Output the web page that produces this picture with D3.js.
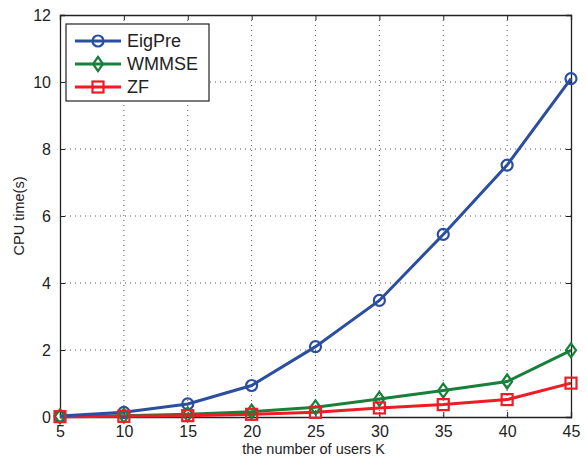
<!DOCTYPE html>
<html>
<head>
<meta charset="utf-8">
<script src="https://cdn.jsdelivr.net/npm/d3@7"></script>
<style>
  body { margin: 0; background: #fff; }
  text { font-family: "Liberation Sans", Arial, sans-serif; fill: #222; }
</style>
</head>
<body>
<svg id="chart"></svg>
<script>
const users = [5, 10, 15, 20, 25, 30, 35, 40, 45];
const eigPre = [0.03, 0.14, 0.39, 0.94, 2.1, 3.48, 5.45, 7.52, 10.1];
const wmmse = [0.02, 0.04, 0.08, 0.16, 0.29, 0.54, 0.79, 1.06, 1.99];
const zf = [0.01, 0.02, 0.04, 0.08, 0.14, 0.27, 0.37, 0.52, 1.01];
const yTicks = [0, 2, 4, 6, 8, 10, 12];
const seriesNames = ["EigPre", "WMMSE", "ZF"];

const W = 587, H = 460;
const margin = { top: 15, right: 16, bottom: 43, left: 60 };
const width = W - margin.left - margin.right;
const height = H - margin.top - margin.bottom;

const svg = d3.select("#chart").attr("width", W).attr("height", H);
const g = svg.append("g").attr("transform", `translate(${margin.left},${margin.top})`);

const x = d3.scaleLinear().domain([5, 45]).range([0, width]);
const y = d3.scaleLinear().domain([0, 12]).range([height, 0]);

// grid
g.append("g").selectAll("line").data(users.slice(1, -1)).join("line")
  .attr("x1", d => x(d)).attr("x2", d => x(d)).attr("y1", 0).attr("y2", height)
  .attr("stroke", "#555").attr("stroke-width", 1).attr("stroke-dasharray", "1,4");
g.append("g").selectAll("line").data(yTicks.slice(1, -1)).join("line")
  .attr("y1", d => y(d)).attr("y2", d => y(d)).attr("x1", 0).attr("x2", width)
  .attr("stroke", "#555").attr("stroke-width", 1).attr("stroke-dasharray", "1,4");

// axes
g.append("g").attr("transform", `translate(0,${height})`)
  .call(d3.axisBottom(x).tickValues(users).tickSize(-5).tickPadding(9));
g.append("g")
  .call(d3.axisLeft(y).tickValues(yTicks).tickSize(-5).tickPadding(9));
g.append("g").call(d3.axisTop(x).tickValues(users).tickSize(-5).tickFormat(""));
g.append("g").attr("transform", `translate(${width},0)`)
  .call(d3.axisRight(y).tickValues(yTicks).tickSize(-5).tickFormat(""));
g.selectAll(".domain").attr("stroke", "#222").attr("stroke-width", 1.3);
g.selectAll(".tick line").attr("stroke", "#222");
g.selectAll(".tick text").style("font-size", "16px").style("font-family", "Liberation Sans, Arial, sans-serif").attr("fill", "#222");

// labels
svg.append("text").attr("x", margin.left + width / 2 - 2).attr("y", 454)
  .attr("text-anchor", "middle").style("font-size", "14.5px").text("the number of users K");
svg.append("text").attr("transform", `translate(24,${margin.top + height / 2}) rotate(-90)`)
  .attr("text-anchor", "middle").style("font-size", "14.5px").text("CPU time(s)");

const colors = ["#2B4EA0", "#18803A", "#EE1C25"];
const allSeries = [eigPre, wmmse, zf];
const line = d3.line().x((d, i) => x(users[i])).y(d => y(d));

function marker(sel, k, cx, cy) {
  if (k === 0) {
    sel.append("circle").attr("cx", cx).attr("cy", cy).attr("r", 5.5)
      .attr("fill", "none").attr("stroke", colors[k]).attr("stroke-width", 2.2);
  } else if (k === 1) {
    sel.append("path").attr("d", `M${cx},${cy - 7}L${cx + 5},${cy}L${cx},${cy + 7}L${cx - 5},${cy}Z`)
      .attr("fill", "none").attr("stroke", colors[k]).attr("stroke-width", 2.2);
  } else {
    sel.append("rect").attr("x", cx - 5.5).attr("y", cy - 5.5).attr("width", 11).attr("height", 11)
      .attr("fill", "none").attr("stroke", colors[k]).attr("stroke-width", 2.2);
  }
}

const plot = svg.append("g").attr("transform", `translate(${margin.left},${margin.top})`);
[1, 2, 0].forEach(k => {
  plot.append("path").datum(allSeries[k]).attr("d", line)
    .attr("fill", "none").attr("stroke", colors[k]).attr("stroke-width", 3);
});
[0, 1, 2].forEach(k => {
  const mg = plot.append("g");
  allSeries[k].forEach((v, i) => marker(mg, k, x(users[i]), y(v)));
});

// legend
const lg = svg.append("g").attr("transform", "translate(66,24)");
lg.append("rect").attr("width", 143).attr("height", 77).attr("fill", "#fff")
  .attr("stroke", "#222").attr("stroke-width", 1.2);
seriesNames.forEach((name, k) => {
  const yy = 17 + k * 23;
  lg.append("line").attr("x1", 9).attr("x2", 55).attr("y1", yy).attr("y2", yy)
    .attr("stroke", colors[k]).attr("stroke-width", 3);
  marker(lg, k, 32, yy);
  lg.append("text").attr("x", 61).attr("y", yy + 6).style("font-size", "18px").text(name);
});
</script>
</body>
</html>
